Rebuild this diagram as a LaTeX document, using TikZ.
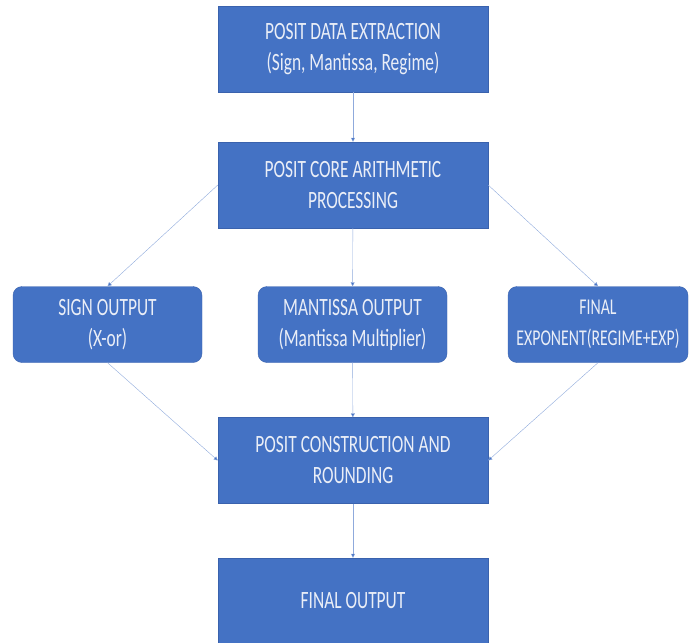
\documentclass[tikz,border=0pt]{standalone}
\usepackage{fontspec}
\usepackage{graphicx}
\setmainfont{Carlito}
\usetikzlibrary{arrows.meta}
\definecolor{boxblue}{HTML}{4472C4}
\definecolor{boxedge}{HTML}{3A62AD}
\definecolor{linkblue}{HTML}{8FAADC}
\definecolor{labelwhite}{HTML}{EAEEF7}
% tall, narrow lettering as in the reference
\newcommand{\tallline}[1]{\scalebox{1}[1.43]{#1}}
\tikzset{
    stagebox/.style={draw=boxedge, fill=boxblue, text=labelwhite, align=center,
        minimum width=270pt, minimum height=86pt, inner sep=2pt,
        font=\fontsize{17.4}{31}\selectfont},
    outbox/.style={stagebox, rounded corners=9pt, minimum width=189pt, minimum height=76pt},
    flow/.style={draw=linkblue, thin, -{Triangle[length=4pt, width=4pt, fill=boxblue]}}
}
\begin{document}
\begin{tikzpicture}[x=1pt, y=-1pt]
    \useasboundingbox (0,0) rectangle (689,643);
    % Stages
    \node[stagebox] (extract) at (353,49) {\tallline{POSIT DATA EXTRACTION}\\\tallline{(Sign, Mantissa, Regime)}};
    \node[stagebox] (core) at (353,185) {\tallline{POSIT CORE ARITHMETIC}\\\tallline{PROCESSING}};
    % Outputs
    \node[outbox] (sign) at (107.5,324.5) {\tallline{SIGN OUTPUT}\\\tallline{(X-or)}};
    \node[outbox] (mant) at (352.5,324.5) {\tallline{MANTISSA OUTPUT}\\\tallline{(Mantissa Multiplier)}};
    \node[outbox, minimum width=180pt, font=\fontsize{15.8}{31}\selectfont] (expo) at (598,324.5) {\tallline{FINAL}\\\tallline{EXPONENT(REGIME+EXP)}};
    % Construction and result
    \node[stagebox] (build) at (353,460.5) {\tallline{POSIT CONSTRUCTION AND}\\\tallline{ROUNDING}};
    \node[stagebox] (final) at (353,601) {\tallline{FINAL OUTPUT}};

    % Connectors
    \draw[flow] (extract) -- (core);
    \draw[flow] (core.west) -- (sign.north);
    \draw[flow] (core) -- (mant);
    \draw[flow] (core.east) -- (expo.north);
    \draw[flow] (sign.south) -- (build.west);
    \draw[flow] (mant) -- (build);
    \draw[flow] (expo.south) -- (build.east);
    \draw[flow] (build) -- (final);
\end{tikzpicture}
\end{document}
